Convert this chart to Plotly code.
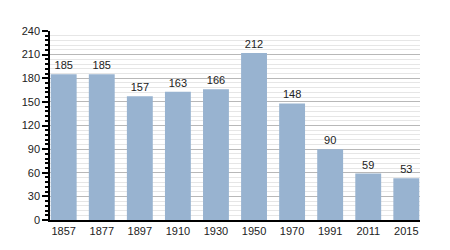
import plotly.graph_objects as go

years = ["1857", "1877", "1897", "1910", "1930", "1950", "1970", "1991", "2011", "2015"]
population = [185, 185, 157, 163, 166, 212, 148, 90, 59, 53]
y_ticks = [0, 30, 60, 90, 120, 150, 180, 210, 240]

fig = go.Figure(go.Bar(
    x=years, y=population,
    marker=dict(color="#98b3d0", line=dict(width=0)),
    text=[str(v) for v in population],
    textposition="outside",
    textfont=dict(family="Liberation Sans, Arial", size=11, color="#222"),
    cliponaxis=False,
))

fig.update_layout(
    width=450, height=250,
    margin=dict(l=50, r=30, t=31, b=30),
    paper_bgcolor="white", plot_bgcolor="white",
    bargap=0.32,
    showlegend=False,
    font=dict(family="Liberation Sans, Arial", size=11, color="#222"),
)
fig.update_xaxes(
    type="category", range=[-0.36, 9.36],
    showline=True, linecolor="black", linewidth=1.5,
    ticks="", showgrid=False,
    tickfont=dict(size=11),
)
fig.update_yaxes(
    range=[0, 240], tickvals=y_ticks,
    showline=True, linecolor="black", linewidth=1.5,
    ticks="outside", ticklen=6, tickcolor="black", tickwidth=1.5,
    showgrid=True, gridcolor="#b8b8b8", gridwidth=1,
    zeroline=False,
    minor=dict(dtick=6, ticks="outside", ticklen=3, tickcolor="black",
               showgrid=True, gridcolor="#e6e6e6", gridwidth=1),
    tickfont=dict(size=11),
)

fig.write_html("out.html")
